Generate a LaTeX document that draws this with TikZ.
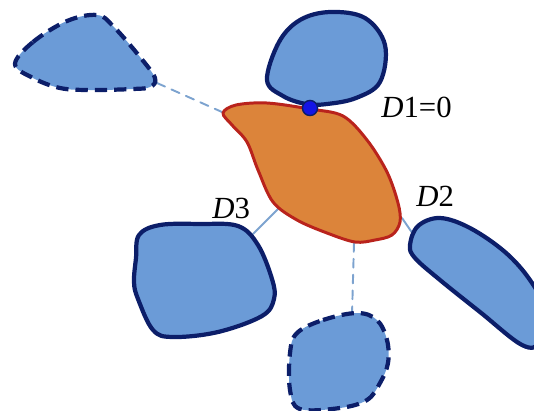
\documentclass[tikz,border=0pt]{standalone}
\usepackage{fontspec}
\setmainfont{Liberation Serif}
\usepackage{tikz}
\usetikzlibrary{calc}
\usepackage{tkz-euclide}

\definecolor{regionblue}{RGB}{107,155,215}
\definecolor{regionnavy}{RGB}{12,30,105}
\definecolor{coreorange}{RGB}{220,132,58}
\definecolor{corered}{RGB}{185,35,28}
\definecolor{linkblue}{RGB}{125,163,207}
\definecolor{dotblue}{RGB}{20,20,230}

\tikzset{
  region/.style={fill=regionblue, draw=regionnavy, line width=2.4pt, line join=round},
  ghost/.style={region, dash pattern=on 7pt off 4pt},
  core/.style={fill=coreorange, draw=corered, line width=1.7pt, line join=round},
  link/.style={draw=linkblue, line width=1.1pt},
  dashlink/.style={link, dash pattern=on 5pt off 4pt},
  dlabel/.style={anchor=base west, inner sep=0pt, font=\fontsize{17.5}{20}\selectfont}
}

\begin{document}
\begin{tikzpicture}[x=0.02cm, y=-0.02cm]
                \clip (0,0) rectangle (534,410);
                \tkzDefPoints{157/83/G1, 222/112/C1, 253/234/R3, 280/207/C3,
                              402/218/C2, 413/234/R2, 354/243/C4, 352/315/G4, 310/108/T}
                \tkzDrawSegments[dashlink](G1,C1 C4,G4)
                \tkzDrawSegments[link](R3,C3 C2,R2)
                % the regions
                \draw[ghost] plot[smooth cycle, tension=0.6] coordinates {(15,64) (33,42) (67,21) (97,15) (113,26) (140,57) (155,78) (150,87) (133,89) (90,90) (60,88) (33,78)};
                \draw[region] plot[smooth cycle, tension=0.6] coordinates {(267,80) (279,42) (300,20) (330,12) (365,18) (385,45) (380,82) (356,98) (327,104) (306,104) (283,96)};
                \draw[region] plot[smooth cycle, tension=0.6] coordinates {(139,235) (160,225) (200,224) (238,226) (258,245) (272,279) (274,299) (262,316) (218,332) (173,337) (153,330) (138,299) (134,282) (136,258)};
                \draw[region] plot[smooth cycle, tension=0.6] coordinates {(410,245) (418,226) (440,218) (470,228) (505,252) (530,280) (545,310) (540,342) (522,345) (480,312) (440,280) (415,258)};
                \draw[ghost] plot[smooth cycle, tension=0.6] coordinates {(297,333) (323,320) (357,313) (377,320) (387,340) (388,363) (380,383) (367,400) (340,408) (300,409) (290,390) (290,353)};
                \draw[core] plot[smooth cycle, tension=0.55] coordinates {(223,113) (236,105) (267,103) (310,109) (343,116) (367,140) (387,172) (398,203) (400,222) (392,235) (375,240) (355,242) (327,233) (297,220) (273,202) (258,170) (247,142) (232,125)};
                \draw[fill=dotblue, draw=regionnavy, line width=0.8pt] (T) circle (4.3pt);
                % labels
                \node[dlabel] (lblD1) at (381,117) {\textit{D}1=0};
                \node[dlabel] (lblD2) at (416,206) {\textit{D}2};
                \node[dlabel] (lblD3) at (212,218) {\textit{D}3};
            \end{tikzpicture}
\end{document}
